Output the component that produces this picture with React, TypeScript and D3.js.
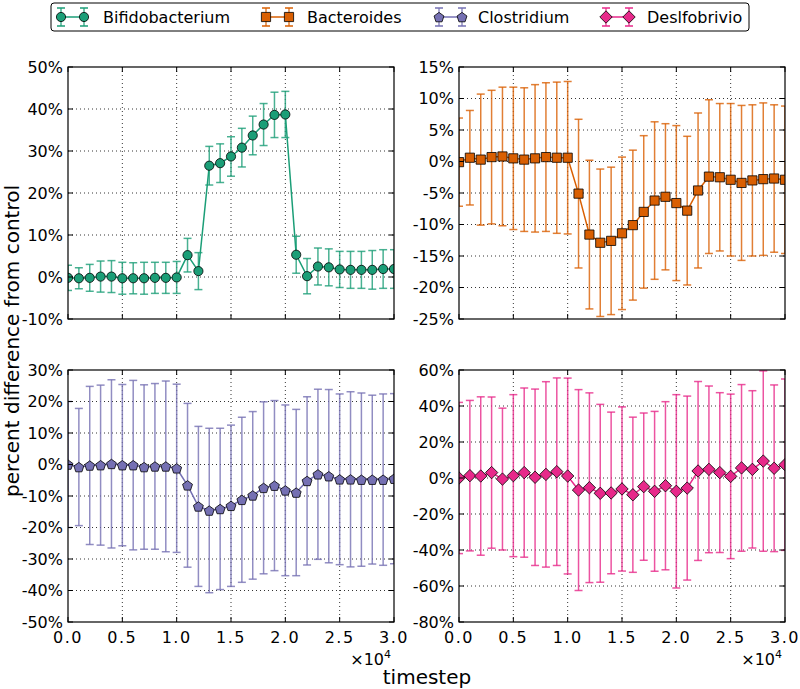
import React, { useEffect, useRef } from 'react'
import * as d3 from 'd3'

// timesteps shared by all four series
const timesteps = [0, 1000, 2000, 3000, 4000, 5000, 6000, 7000, 8000, 9000, 10000, 11000, 12000, 13000, 14000, 15000,
  16000, 17000, 18000, 19000, 20000, 21000, 22000, 23000, 24000, 25000, 26000, 27000, 28000, 29000, 30000]

const bifidoValues = [-0.2, -0.3, -0.2, 0.1, 0.1, -0.3, -0.3, -0.3, -0.2, -0.2, -0.1, 5.2, 1.4, 26.5, 27.1, 28.7,
  30.8, 33.7, 36.3, 38.6, 38.7, 5.3, 0.2, 2.5, 2.3, 1.8, 1.7, 1.7, 1.7, 1.9, 1.9]
const bifidoErr = [3.0, 2.5, 3.2, 3.7, 3.8, 3.8, 3.7, 3.8, 3.7, 3.7, 3.8, 4.0, 4.4, 4.6, 4.6, 4.7,
  4.6, 4.6, 5.0, 5.4, 5.5, 4.4, 4.2, 4.4, 4.4, 4.3, 4.4, 4.4, 4.6, 4.6, 4.6]

const bacteroidesValues = [-0.1, 0.6, 0.3, 0.7, 0.8, 0.5, 0.3, 0.5, 0.7, 0.6, 0.6, -5.1, -11.6, -12.9, -12.6, -11.4,
  -10.1, -8.0, -6.2, -5.6, -6.6, -7.8, -4.6, -2.4, -2.5, -2.9, -3.4, -3.0, -2.8, -2.7, -2.9]
const bacteroidesErr = [7.0, 7.5, 10.4, 10.6, 11.0, 11.3, 11.4, 11.7, 11.8, 12.0, 12.1, 11.8, 11.8, 11.7, 11.7, 12.1,
  11.9, 12.1, 12.5, 11.6, 12.3, 11.8, 12.3, 12.2, 11.7, 12.1, 12.3, 12.0, 12.1, 11.7, 11.7]

const clostridiumValues = [0, -0.8, -0.3, -0.2, 0.2, -0.2, -0.2, -0.8, -0.6, -0.6, -1.2, -6.6, -13.3, -14.6, -14.1, -13.1,
  -11.2, -9.8, -7.4, -6.7, -8.2, -8.9, -5.2, -3.1, -3.7, -4.7, -4.7, -4.8, -4.8, -4.8, -4.5]
const clostridiumErr = [20, 18.6, 25.1, 25.4, 26.7, 25.6, 26.9, 26.1, 26.3, 27.1, 26.7, 26.0, 25.4, 26.1, 25.6, 25.6,
  26.2, 26.6, 27.3, 27.0, 27.1, 26.4, 26.7, 27.0, 27.5, 27.1, 27.8, 27.5, 26.8, 27.2, 27.0]

const desulfoValues = [0, 1.3, 1.1, 3.0, -0.6, 1.3, 3.0, 0.4, 2.0, 3.5, 1.1, -6.7, -5.4, -8.5, -8.3, -6.1,
  -9.3, -4.8, -7.4, -4.3, -7.4, -5.6, 3.9, 4.8, 3.0, 0.9, 5.6, 4.8, 9.4, 5.4, 7.4]
const desulfoErr = [42, 41.8, 44.0, 42.0, 39.4, 45.0, 47.0, 49.0, 51.5, 52.1, 54.4, 55.8, 52.7, 49.4, 44.9, 45.6,
  43.1, 40.9, 44.4, 46.7, 53.7, 51.1, 49.7, 46.3, 44.4, 45.7, 46.3, 43.7, 50.1, 46.3, 47.6]

const seriesNames = ['Bifidobacterium', 'Bacteroides', 'Clostridium', 'Deslfobrivio']
const colors = ['#1b9e77', '#d95f02', '#7570b3', '#e7298a']
const xTicks = [0, 5000, 10000, 15000, 20000, 25000, 30000]

// marker paths centred at 0,0
const markerPath = (kind: string) => {
  if (kind === 'circle') return d3.symbol().type(d3.symbolCircle).size(Math.PI * 4.6 * 4.6)()
  if (kind === 'square') return 'M-4.6,-4.6L4.6,-4.6L4.6,4.6L-4.6,4.6Z'
  if (kind === 'diamond') return 'M0,-6.2L6.2,0L0,6.2L-6.2,0Z'
  const pts = d3.range(5).map(i => {
    const a = -Math.PI / 2 + i * 2 * Math.PI / 5
    return [5.2 * Math.cos(a), 5.2 * Math.sin(a) + 0.6]
  })
  return 'M' + pts.map(p => p.join(',')).join('L') + 'Z'
}

const panels = [
  { values: bifidoValues, err: bifidoErr, domain: [-10, 50], yTicks: [-10, 0, 10, 20, 30, 40, 50], marker: 'circle', left: 68, top: 67, xlabels: false },
  { values: bacteroidesValues, err: bacteroidesErr, domain: [-25, 15], yTicks: [-25, -20, -15, -10, -5, 0, 5, 10, 15], marker: 'square', left: 459, top: 67, xlabels: false },
  { values: clostridiumValues, err: clostridiumErr, domain: [-50, 30], yTicks: [-50, -40, -30, -20, -10, 0, 10, 20, 30], marker: 'pentagon', left: 68, top: 370, xlabels: true },
  { values: desulfoValues, err: desulfoErr, domain: [-80, 60], yTicks: [-80, -60, -40, -20, 0, 20, 40, 60], marker: 'diamond', left: 459, top: 370, xlabels: true },
]
const pw = 326
const ph = 252

const App = () => {
  const ref = useRef<SVGSVGElement>(null)
  useEffect(() => {
    const svg = d3.select(ref.current)
    svg.selectAll('*').remove()
    const font = 'DejaVu Sans, sans-serif'

    panels.forEach((p, i) => {
      const color = colors[i]
      const x = d3.scaleLinear().domain([0, 30000]).range([p.left, p.left + pw])
      const y = d3.scaleLinear().domain(p.domain).range([p.top + ph, p.top])
      const g = svg.append('g')
      const clipId = 'clip' + i
      svg.append('clipPath').attr('id', clipId)
        .append('rect').attr('x', p.left).attr('y', p.top).attr('width', pw).attr('height', ph)

      // grid
      const grid = g.append('g').attr('stroke', '#000').attr('stroke-width', 0.8).attr('stroke-dasharray', '1,3')
      xTicks.slice(1, -1).forEach(t => {
        grid.append('line').attr('x1', x(t)).attr('x2', x(t)).attr('y1', p.top).attr('y2', p.top + ph)
      })
      p.yTicks.slice(1, -1).forEach(t => {
        grid.append('line').attr('y1', y(t)).attr('y2', y(t)).attr('x1', p.left).attr('x2', p.left + pw)
      })

      const inner = g.append('g').attr('clip-path', `url(#${clipId})`)
      // error bars
      const eb = inner.append('g').attr('stroke', color).attr('stroke-width', 1.5).attr('stroke-opacity', 0.8)
      timesteps.forEach((t, k) => {
        const hi = y(p.values[k] + p.err[k])
        const lo = y(p.values[k] - p.err[k])
        eb.append('line').attr('x1', x(t)).attr('x2', x(t)).attr('y1', hi).attr('y2', lo)
        eb.append('line').attr('x1', x(t) - 4).attr('x2', x(t) + 4).attr('y1', hi).attr('y2', hi)
        eb.append('line').attr('x1', x(t) - 4).attr('x2', x(t) + 4).attr('y1', lo).attr('y2', lo)
      })
      const line = d3.line<number>().x((_, k) => x(timesteps[k])).y(v => y(v))
      inner.append('path').attr('d', line(p.values)).attr('fill', 'none').attr('stroke', color).attr('stroke-width', 1.5)
      const mp = markerPath(p.marker)
      inner.selectAll('.m').data(p.values).enter().append('path')
        .attr('d', mp)
        .attr('transform', (v, k) => `translate(${x(timesteps[k])},${y(v)})`)
        .attr('fill', color).attr('stroke', '#000').attr('stroke-width', 0.8)

      // frame and ticks
      g.append('rect').attr('x', p.left).attr('y', p.top).attr('width', pw).attr('height', ph)
        .attr('fill', 'none').attr('stroke', '#000').attr('stroke-width', 1.2)
      const tk = g.append('g').attr('stroke', '#000').attr('stroke-width', 1)
      xTicks.forEach(t => {
        tk.append('line').attr('x1', x(t)).attr('x2', x(t)).attr('y1', p.top + ph).attr('y2', p.top + ph - 5)
        tk.append('line').attr('x1', x(t)).attr('x2', x(t)).attr('y1', p.top).attr('y2', p.top + 5)
      })
      p.yTicks.forEach(t => {
        tk.append('line').attr('y1', y(t)).attr('y2', y(t)).attr('x1', p.left).attr('x2', p.left + 5)
        tk.append('line').attr('y1', y(t)).attr('y2', y(t)).attr('x1', p.left + pw).attr('x2', p.left + pw - 5)
      })
      p.yTicks.forEach(t => {
        g.append('text').attr('x', p.left - 5).attr('y', y(t)).attr('dy', '0.36em')
          .attr('text-anchor', 'end').attr('font-family', font).attr('font-size', 16).attr('fill', '#000')
          .text(t + '%')
      })
      if (p.xlabels) {
        xTicks.forEach(t => {
          g.append('text').attr('x', x(t)).attr('y', p.top + ph + 21)
            .attr('text-anchor', 'middle').attr('font-family', font).attr('font-size', 16)
            .attr('letter-spacing', 1.5).text((t / 10000).toFixed(1))
        })
        const off = g.append('text').attr('x', p.left + pw - 3).attr('y', p.top + ph + 43)
          .attr('text-anchor', 'end').attr('font-family', font).attr('font-size', 16)
        off.append('tspan').text('×10')
        off.append('tspan').attr('font-size', 11).attr('dy', -7).text('4')
      }
    })

    // axis labels
    svg.append('text').attr('transform', 'translate(19,341) rotate(-90)')
      .attr('text-anchor', 'middle').attr('font-family', font).attr('font-size', 20)
      .text('percent difference from control')
    svg.append('text').attr('x', 427).attr('y', 684)
      .attr('text-anchor', 'middle').attr('font-family', font).attr('font-size', 20)
      .text('timestep')

    // legend
    const lg = svg.append('g')
    lg.append('rect').attr('x', 51).attr('y', 3).attr('width', 698).attr('height', 28).attr('rx', 3)
      .attr('fill', '#fff').attr('stroke', '#000').attr('stroke-width', 1)
    const handleX = [61, 266, 439, 606]
    const textX = [103, 307, 478, 647]
    const legendMarkers = ['circle', 'square', 'pentagon', 'diamond']
    seriesNames.forEach((name, i) => {
      const hx = handleX[i]
      const cy = 17
      const item = lg.append('g')
      item.append('line').attr('x1', hx).attr('x2', hx + 23).attr('y1', cy).attr('y2', cy)
        .attr('stroke', colors[i]).attr('stroke-width', 1.5)
      ;[hx, hx + 23].forEach(mx => {
        item.append('line').attr('x1', mx).attr('x2', mx).attr('y1', cy - 9).attr('y2', cy + 9)
          .attr('stroke', colors[i]).attr('stroke-width', 1.5).attr('stroke-opacity', 0.8)
        item.append('line').attr('x1', mx - 4).attr('x2', mx + 4).attr('y1', cy - 9).attr('y2', cy - 9)
          .attr('stroke', colors[i]).attr('stroke-width', 1.5)
        item.append('line').attr('x1', mx - 4).attr('x2', mx + 4).attr('y1', cy + 9).attr('y2', cy + 9)
          .attr('stroke', colors[i]).attr('stroke-width', 1.5)
        item.append('path').attr('d', markerPath(legendMarkers[i]))
          .attr('transform', `translate(${mx},${cy})`)
          .attr('fill', colors[i]).attr('stroke', '#000').attr('stroke-width', 0.8)
      })
      item.append('text').attr('x', textX[i]).attr('y', cy + 6)
        .attr('font-family', font).attr('font-size', 16).text(name)
    })
  }, [])

  return (
    <svg ref={ref} width={800} height={689} style={{ position: 'absolute', left: 0, top: 0, background: '#fff' }} />
  )
}

export default App
